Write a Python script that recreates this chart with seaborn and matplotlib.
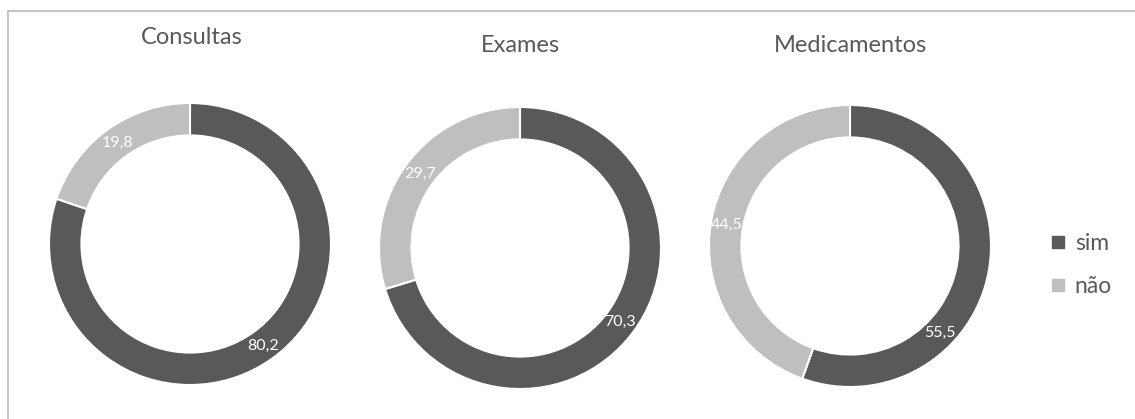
import matplotlib
matplotlib.use("Agg")
import numpy as np
import matplotlib.pyplot as plt
import seaborn as sns
from matplotlib.lines import Line2D

# --- Data
titles = ["Consultas", "Exames", "Medicamentos"]
sim = [80.2, 70.3, 55.5]
nao = [19.8, 29.7, 44.5]
labels = ["sim", "não"]

sns.set_theme(style="white")
plt.rcParams['font.family'] = ['Lato', 'DejaVu Sans']
colors = sns.color_palette(["#595959", "#bfbfbf"])
text_gray = "#595959"

W, H = 1135, 419
fig = plt.figure(figsize=(W / 100, H / 100), dpi=100)

# donut centres / radius in pixels
centres = [(190, 244), (520, 248), (850, 246)]
R = 141
# label of the "sim" slice on Medicamentos was moved by hand in the original
sim_label_shift = [0, 0, -34]

for title, s, n, (cx, cy), shift in zip(titles, sim, nao, centres, sim_label_shift):
    ax = fig.add_axes([(cx - R) / W, (H - cy - R) / H, 2 * R / W, 2 * R / H])
    vals = [s, n]
    ax.pie(vals, colors=colors, startangle=90, counterclock=False, radius=1,
           wedgeprops=dict(width=0.23, edgecolor="white", linewidth=1.5))
    # value labels at middle of each segment
    start = 90
    for i, v in enumerate(vals):
        mid = start - v / 100 * 360 / 2
        if i == 0:
            mid += shift
        mid = np.deg2rad(mid)
        r = 0.885
        ax.text(r * np.cos(mid), r * np.sin(mid), f"{v:.1f}".replace(".", ","),
                ha="center", va="center", color="white", fontsize=11.5)
        start -= v / 100 * 360
    ax.set_xlim(-1, 1)
    ax.set_ylim(-1, 1)
    ax.set_aspect("equal")
    ax.axis("off")

# titles
title_pos = [(192, 37), (520, 45), (850, 45)]
for t, (x, y) in zip(titles, title_pos):
    fig.text(x / W, 1 - y / H, t, ha="center", va="center", fontsize=17, color=text_gray)

# legend
handles = [Line2D([], [], marker="s", linestyle="", markersize=9, color=c) for c in colors]
fig.legend(handles, labels, loc="center left", bbox_to_anchor=(1022 / W, 1 - 265 / H),
           frameon=False, fontsize=16.5, labelcolor=text_gray, labelspacing=0.95,
           handletextpad=0.1, handlelength=1.3)

# chart frame (only left and top edges visible)
fig.add_artist(Line2D([8 / W, 8 / W], [0, 1 - 11 / H], color="#bfbfbf", lw=1.3))
fig.add_artist(Line2D([8 / W, 1], [1 - 11 / H, 1 - 11 / H], color="#bfbfbf", lw=1.3))

plt.savefig("out.png", dpi=100)
plt.close()
